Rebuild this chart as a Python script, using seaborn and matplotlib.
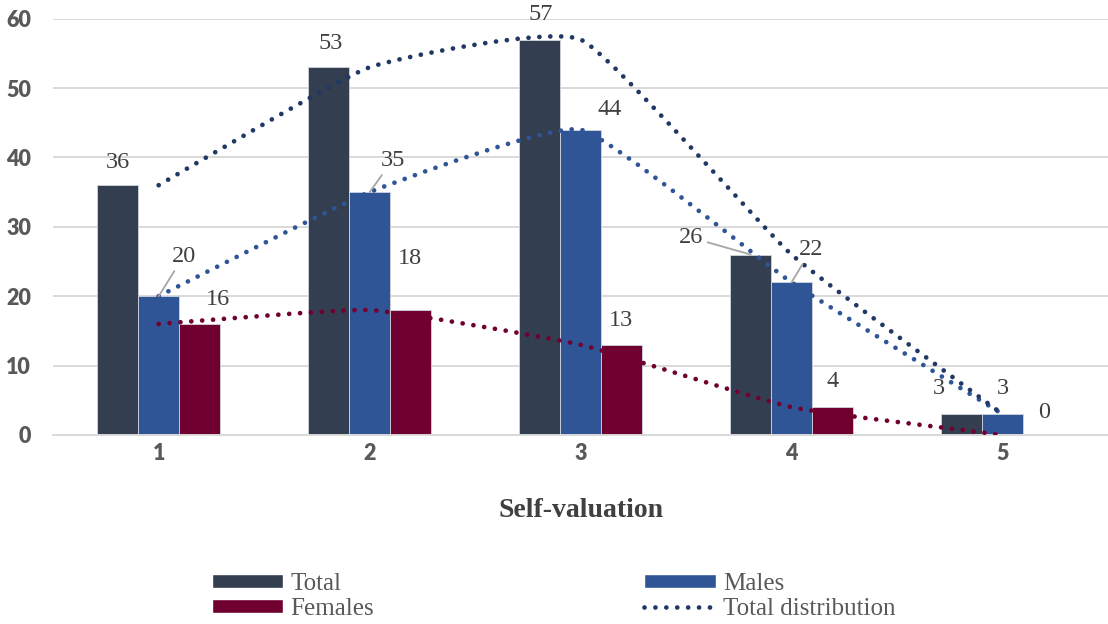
import numpy as np
import pandas as pd
import matplotlib.pyplot as plt
import seaborn as sns
from matplotlib.path import Path
from matplotlib.patches import PathPatch, Patch
from matplotlib.lines import Line2D

# data
scores = ["1", "2", "3", "4", "5"]
total = [36, 53, 57, 26, 3]
males = [20, 35, 44, 22, 3]
females = [16, 18, 13, 4, 0]

groups = ["Total", "Males", "Females"]
bar_colors = {"Total": "#333F50", "Males": "#2F5597", "Females": "#70002F"}
line_colors = {"Total": "#1F3864", "Males": "#2F5597", "Females": "#70002F"}

df = pd.DataFrame({
    "score": scores * 3,
    "group": ["Total"] * 5 + ["Males"] * 5 + ["Females"] * 5,
    "value": total + males + females,
})

sns.set_theme(style="white")
plt.rcParams["font.family"] = ["Liberation Serif", "DejaVu Serif"]

fig = plt.figure(figsize=(11.08, 6.24), dpi=100)
ax = fig.add_axes([0.048, 0.303, 0.952, 0.667])

sns.barplot(data=df, x="score", y="value", hue="group", hue_order=groups,
            palette=bar_colors, width=0.58, saturation=1, legend=False,
            edgecolor="#D0D5DD", linewidth=0.6, ax=ax, zorder=2)


def smooth_path(xs, ys, k=0.07):
    # lightly smoothed line, bezier control points from neighbours
    pts = np.column_stack([xs, ys]).astype(float)
    verts = [pts[0]]
    codes = [Path.MOVETO]
    n = len(pts)
    for i in range(n - 1):
        p0 = pts[max(i - 1, 0)]
        p1 = pts[i]
        p2 = pts[i + 1]
        p3 = pts[min(i + 2, n - 1)]
        verts += [p1 + (p2 - p0) * k, p2 - (p3 - p1) * k, p2]
        codes += [Path.CURVE4] * 3
    return Path(verts, codes)


dots = (0, (0.01, 2.3))
xs = np.arange(len(scores))
for name, vals in [("Females", females), ("Males", males), ("Total", total)]:
    patch = PathPatch(smooth_path(xs, vals), fill=False, edgecolor=line_colors[name],
                      lw=3.4, linestyle=dots, capstyle="round", zorder=4)
    ax.add_patch(patch)

# value labels: (dx, dy) offsets in pixels, leader line flag
offsets = {
    "Total": [(0, 23, False), (2, 24, False), (1, 25, False), (-60, 17, True), (-23, 26, False)],
    "Males": [(25, 40, True), (23, 32, True), (29, 20, False), (20, 33, True), (0, 26, False)],
    "Females": [(19, 24, False), (0, 52, False), (0, 24, False), (0, 26, False), (1, 22, False)],
}
for cont, name in zip(ax.containers, groups):
    for bar, (dx, dy, lead) in zip(cont, offsets[name]):
        x = bar.get_x() + bar.get_width() / 2
        h = bar.get_height()
        kw = {}
        if lead:
            kw["arrowprops"] = dict(arrowstyle="-", color="#A6A6A6", lw=1.3,
                                    shrinkA=1, shrinkB=0)
        ax.annotate(f"{h:.0f}", xy=(x, h), xytext=(dx, dy), textcoords="offset pixels",
                    ha="center", va="center", fontsize=17.5, color="#404040",
                    zorder=6, **kw)

ax.set_xlim(-0.5, 4.5)
ax.set_ylim(0, 60)
ax.set_yticks(range(0, 61, 10))
ax.yaxis.grid(True, color="#D9D9D9", lw=1.4)
ax.set_axisbelow(True)
for s in ["top", "right", "left"]:
    ax.spines[s].set_visible(False)
ax.spines["bottom"].set_color("#D9D9D9")
ax.spines["bottom"].set_linewidth(1.4)
ax.tick_params(axis="y", length=0, pad=16)
ax.tick_params(axis="x", length=0, pad=6)
for lab in ax.get_xticklabels() + ax.get_yticklabels():
    lab.set_family("Lato")
    lab.set_fontweight("heavy")
    lab.set_fontsize(15.5)
    lab.set_color("#595959")

ax.set_ylabel("")
ax.set_xlabel("Self-valuation", fontsize=20, fontweight="bold", color="#404040", labelpad=24)

handles = [
    Patch(facecolor=bar_colors["Total"]),
    Patch(facecolor=bar_colors["Females"]),
    Patch(facecolor=bar_colors["Males"]),
    Line2D([], [], color=line_colors["Total"], lw=3.4, linestyle=dots,
           dash_capstyle="round"),
]
labels = ["Total", "Females", "Males", "Total distribution"]
leg = fig.legend(handles, labels, ncol=2, loc="upper left", bbox_to_anchor=(0.18, 0.102),
                 frameon=False, fontsize=18, handlelength=2.85, handleheight=0.5,
                 handletextpad=0.3, columnspacing=10.8, labelspacing=0.12, borderpad=0)
for t in leg.get_texts():
    t.set_color("#595959")

fig.savefig("out.png", dpi=100)
